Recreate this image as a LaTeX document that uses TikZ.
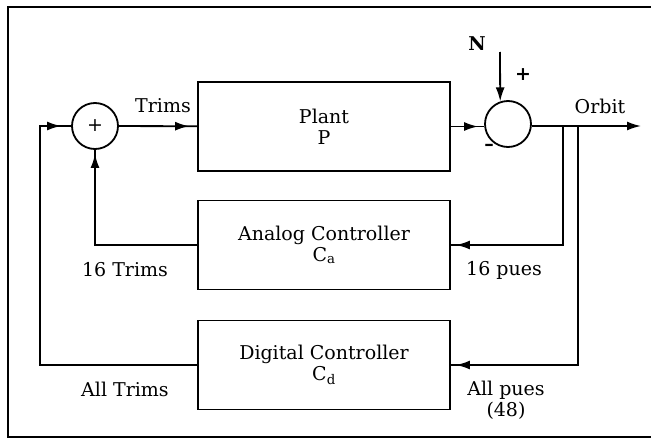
\documentclass[tikz,border=0pt]{standalone}
\usepackage{fontspec}
\setmainfont{DejaVu Serif}
\usepackage{tikz}
\usetikzlibrary{shapes,arrows,arrows.meta,positioning,decorations.markings}

\tikzset{
	blk/.style={draw, line width=1.8pt, minimum width=252pt, minimum height=89pt, align=center, font=\fontsize{19}{21}\selectfont},
	sumnode/.style={draw, circle, line width=1.8pt, minimum size=46pt, inner sep=0pt, font=\fontsize{19}{21}\selectfont},
	sig/.style={line width=1.8pt},
	tipgap/.style={postaction={decorate}, decoration={markings, mark=at position -#1 with {\arrow{Latex[length=14pt,width=9pt]}}}},
	lbl/.style={font=\fontsize{19}{21}\selectfont, inner sep=0pt, align=center}
}

\begin{document}
\begin{tikzpicture}[x=1pt,y=-1pt]
				\useasboundingbox (0,0) rectangle (651,439);
				\draw [line width=1.8pt] (651,7) -| (8,437) -- (651,437);

				\node [sumnode] (sumA) at (95,126){+};
				\node [blk] (plant) at (324,126.5){Plant\\P};
				\node [sumnode] (sumB) at (508,124){};
				\node [blk] (analog) at (324,245){Analog Controller\\C\textsubscript{a}};
				\node [blk] (digital) at (324,365){Digital Controller\\C\textsubscript{d}};

				\coordinate (lft) at (40,126);
				\coordinate (tapA) at (563,126);
				\coordinate (tapD) at (578,126);
				\coordinate (nin) at (500,52);
				\coordinate (out) at (641,126);

				\draw [sig,tipgap=8pt] (sumA) -- (plant);
				\draw [sig,tipgap=6pt] (plant.east) -- (sumB.west |- plant.east);
				\draw [sig,-{Latex[length=14pt,width=9pt]}] (sumB.east |- out) -- (out);
				\draw [sig,-{Latex[length=14pt,width=9pt]}] (nin) -- (sumB.109);
				\draw [sig,tipgap=5pt] (tapA) |- (analog.east);
				\draw [sig,tipgap=5pt] (tapD) |- (digital.east);
				\draw [sig,tipgap=4pt] (analog.west) -| (sumA.south);
				\draw [sig,tipgap=10pt] (digital.west) -| (lft) -- (sumA.west);

				\node [lbl] (trims) at (163,106){Trims};
				\node [lbl] (orbit) at (600,106){Orbit};
				\node [lbl] (nlbl) at (477,44){\textbf{N}};
				\node [lbl] (plus) at (523,75){\textbf{+}};
				\node [lbl] (minus) at (489,147){\textbf{–}};
				\node [lbl] (trimsA) at (125,270){16 Trims};
				\node [lbl] (trimsD) at (125,389){All Trims};
				\node [lbl] (puesA) at (504,270){16 pues};
				\node [lbl] (puesD) at (506,400){All pues\\(48)};

\end{tikzpicture}
\end{document}
